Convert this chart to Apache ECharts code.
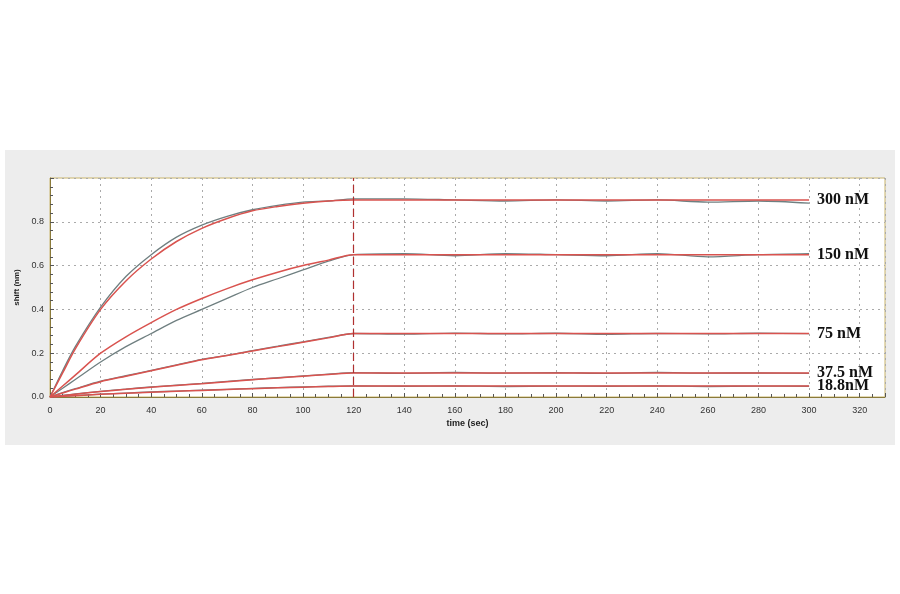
<!DOCTYPE html>
<html>
<head>
<meta charset="utf-8">
<script src="https://cdn.jsdelivr.net/npm/echarts@6/dist/echarts.min.js"></script>
<style>html,body{margin:0;padding:0;background:#fff;}#main{width:900px;height:594px;}</style>
</head>
<body>
<div id="main"></div>
<script>
/*时间轴 (sec)*/
var times = [0, 5, 10, 20, 30, 40, 50, 60, 70, 80, 90, 100, 110, 120, 140, 160, 180, 200, 220, 240, 260, 280, 300];
/*拟合曲线 (红)*/
var fit300 = [0, 0.11, 0.22, 0.40, 0.53, 0.63, 0.71, 0.77, 0.815, 0.85, 0.87, 0.885, 0.895, 0.90, 0.90, 0.90, 0.90, 0.90, 0.90, 0.90, 0.90, 0.90, 0.90];
var fit150 = [0, 0.05, 0.10, 0.20, 0.275, 0.34, 0.40, 0.45, 0.495, 0.535, 0.57, 0.60, 0.625, 0.65, 0.65, 0.65, 0.65, 0.65, 0.65, 0.65, 0.65, 0.65, 0.65];
var fit75 = [0, 0.018, 0.036, 0.07, 0.095, 0.12, 0.145, 0.17, 0.19, 0.21, 0.23, 0.25, 0.27, 0.29, 0.29, 0.29, 0.29, 0.29, 0.29, 0.29, 0.29, 0.29, 0.29];
var fit37 = [0, 0.006, 0.013, 0.025, 0.035, 0.045, 0.053, 0.061, 0.07, 0.079, 0.087, 0.095, 0.103, 0.11, 0.11, 0.11, 0.11, 0.11, 0.11, 0.11, 0.11, 0.11, 0.11];
var fit18 = [0, 0.003, 0.006, 0.012, 0.017, 0.022, 0.026, 0.03, 0.034, 0.038, 0.042, 0.045, 0.048, 0.05, 0.05, 0.05, 0.05, 0.05, 0.05, 0.05, 0.05, 0.05, 0.05];
/*原始数据 (灰)*/
var raw300 = [0, 0.12, 0.23, 0.41, 0.55, 0.65, 0.73, 0.785, 0.825, 0.855, 0.875, 0.89, 0.895, 0.905, 0.905, 0.9, 0.895, 0.9, 0.895, 0.9, 0.89, 0.895, 0.885];
var raw150 = [0, 0.04, 0.08, 0.16, 0.23, 0.29, 0.35, 0.40, 0.45, 0.50, 0.54, 0.58, 0.62, 0.65, 0.655, 0.645, 0.655, 0.65, 0.645, 0.655, 0.64, 0.65, 0.655];
var raw75 = [0, 0.02, 0.038, 0.072, 0.097, 0.122, 0.147, 0.172, 0.19, 0.212, 0.232, 0.252, 0.272, 0.29, 0.287, 0.292, 0.288, 0.291, 0.286, 0.29, 0.288, 0.291, 0.289];
var raw37 = [0, 0.007, 0.014, 0.026, 0.036, 0.046, 0.054, 0.062, 0.071, 0.08, 0.088, 0.096, 0.104, 0.111, 0.108, 0.112, 0.109, 0.111, 0.108, 0.112, 0.109, 0.11, 0.108];
var raw18 = [0, 0.004, 0.007, 0.013, 0.018, 0.023, 0.027, 0.031, 0.035, 0.039, 0.043, 0.046, 0.049, 0.051, 0.049, 0.051, 0.048, 0.05, 0.049, 0.051, 0.048, 0.05, 0.049];
var names = ['300 nM', '150 nM', '75 nM', '37.5 nM', '18.8nM'];
var xTicks = [0, 20, 40, 60, 80, 100, 120, 140, 160, 180, 200, 220, 240, 260, 280, 300, 320];

function pair(arr) {
  return times.map(function (t, i) { return [t, arr[i]]; });
}

var rawArr = [raw300, raw150, raw75, raw37, raw18];
var fitArr = [fit300, fit150, fit75, fit37, fit18];
var series = [];
for (var i = 0; i < rawArr.length; i++) {
  series.push({
    name: 'raw' + i, type: 'line', smooth: 0.3, symbol: 'none',
    lineStyle: {color: '#6f7f80', width: 1.3},
    data: pair(rawArr[i])
  });
}
for (var j = 0; j < fitArr.length; j++) {
  var s = {
    name: names[j], type: 'line', smooth: 0.3, symbol: 'none',
    lineStyle: {color: '#d9534f', width: 1.5},
    data: pair(fitArr[j]),
    endLabel: {
      show: true, formatter: names[j], distance: 8,
      fontFamily: 'Liberation Serif', fontWeight: 'bold', fontSize: 16, color: '#111'
    }
  };
  if (j == 0) {
    s.markLine = {
      symbol: 'none', silent: true, label: {show: false},
      lineStyle: {color: '#b03030', type: [8, 4], width: 1.2},
      data: [{xAxis: 120}]
    };
  }
  series.push(s);
}

var chart = echarts.init(document.getElementById('main'));
chart.setOption({
  animation: false,
  graphic: [{
    type: 'rect', z: -10, shape: {x: 5, y: 150, width: 890, height: 295},
    style: {fill: '#ededed'}
  }, {
    type: 'rect', z: -9, shape: {x: 50, y: 178, width: 835, height: 219},
    style: {fill: '#fff'}
  }],
  grid: {left: 50, top: 178, right: 15, bottom: 197, show: true, borderColor: '#c9b46a', borderWidth: 1, backgroundColor: 'transparent'},
  xAxis: {
    type: 'value', min: 0, max: 330, interval: 20,
    name: 'time (sec)', nameLocation: 'middle', nameGap: 22,
    nameTextStyle: {fontFamily: 'Liberation Sans', fontWeight: 'bold', fontSize: 9, color: '#222'},
    axisLine: {lineStyle: {color: '#8a7a3a'}},
    axisTick: {show: true, inside: true, length: 4, lineStyle: {color: '#555'}},
    minorTick: {show: true, splitNumber: 4, length: 3, lineStyle: {color: '#555'}},
    axisLabel: {fontFamily: 'Liberation Sans', fontSize: 9, color: '#333', margin: 9,
      formatter: function (v) { return xTicks.indexOf(v) >= 0 ? v : ''; }},
    splitLine: {show: true, lineStyle: {color: '#aaa', type: [2, 4]}}
  },
  yAxis: {
    type: 'value', min: 0, max: 1.0, interval: 0.2,
    name: 'shift (nm)', nameLocation: 'middle', nameGap: 24,
    nameTextStyle: {fontFamily: 'Liberation Sans', fontWeight: 'bold', fontSize: 8, color: '#222'},
    axisLine: {show: true, lineStyle: {color: '#8a7a3a'}},
    axisTick: {show: true, inside: true, length: 4, lineStyle: {color: '#555'}},
    minorTick: {show: true, splitNumber: 5, length: 3, lineStyle: {color: '#555'}},
    axisLabel: {fontFamily: 'Liberation Sans', fontSize: 9, color: '#333', margin: 6,
      formatter: function (v) { return v >= 0.99 ? '' : v.toFixed(1); }},
    splitLine: {show: true, lineStyle: {color: '#aaa', type: [2, 4]}}
  },
  series: series
});
</script>
</body>
</html>
